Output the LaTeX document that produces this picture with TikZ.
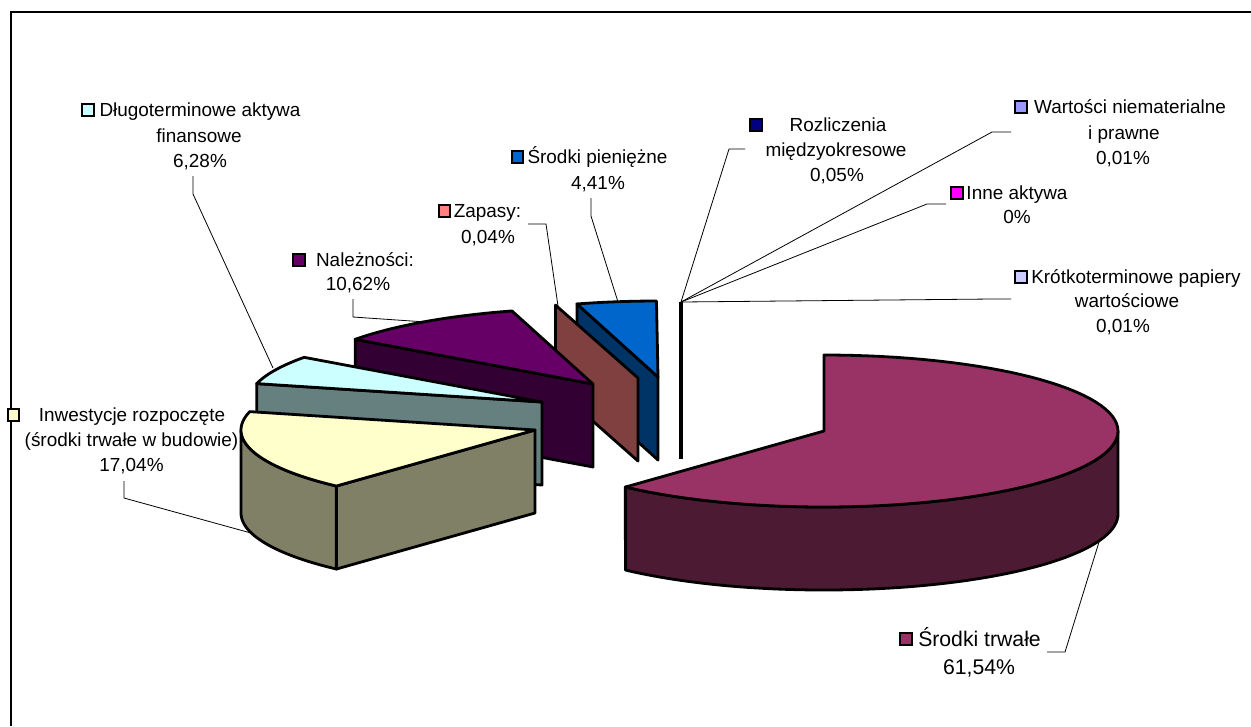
\documentclass[tikz,border=0pt]{standalone}
\usepackage{fontspec}
\setmainfont{Liberation Sans}
\definecolor{cYel}{HTML}{FFFFCC}
\definecolor{cYelS}{HTML}{808066}
\definecolor{cCyan}{HTML}{CCFFFF}
\definecolor{cCyanS}{HTML}{668080}
\definecolor{cPur}{HTML}{660066}
\definecolor{cPurS}{HTML}{330033}
\definecolor{cSal}{HTML}{FF8080}
\definecolor{cSalS}{HTML}{804040}
\definecolor{cBlu}{HTML}{0066CC}
\definecolor{cBluS}{HTML}{003366}
\definecolor{cMag}{HTML}{993366}
\definecolor{cMagS}{HTML}{4D1A33}
\definecolor{cNavy}{HTML}{000080}
\definecolor{cLav}{HTML}{9999FF}
\definecolor{cPink}{HTML}{FF00FF}
\definecolor{cLil}{HTML}{CCCCFF}
\newcommand{\pietop}[5]{\filldraw[slice, fill=#5] (#1,#2) -- plot[domain=#3:#4, samples=80, variable=\t] ({#1+294*cos(\t)},{#2-76*sin(\t)}) -- cycle;}
\newcommand{\pieside}[5]{\filldraw[slice, fill=#5] plot[domain=#3:#4, samples=80, variable=\t] ({#1+294*cos(\t)},{#2-76*sin(\t)}) -- plot[domain=#4:#3, samples=80, variable=\t] ({#1+294*cos(\t)},{#2+83-76*sin(\t)}) -- cycle;}
\newcommand{\pieface}[4]{\filldraw[slice, fill=#4] (#1,#2) -- ({#1+294*cos(#3)},{#2-76*sin(#3)}) -- ({#1+294*cos(#3)},{#2+83-76*sin(#3)}) -- (#1,{#2+83}) -- cycle;}
\begin{document}
\begin{tikzpicture}[x={(0.75pt,0)}, y={(0,-0.75pt)},
  slice/.style={draw=black, line width=2.1pt, line join=round},
  leader/.style={draw=black, line width=0.6pt},
  key/.style={draw=black, line width=1.4pt, minimum size=8.4pt, inner sep=0pt, rectangle},
  lbl/.style={anchor=base, inner sep=0pt, font=\fontsize{14.2}{18}\selectfont},
  lblbig/.style={anchor=base, inner sep=0pt, font=\fontsize{15.9}{20}\selectfont}]
\useasboundingbox (0,0) rectangle (1251,726);
\fill[white] (0,0) rectangle (1251,726);
% frame
\draw[line width=1.4pt] (1251,12) -- (11,12) -- (11,726);

% tiny slices (edge-on)
\draw[line width=2.6pt] (681,302) -- (681,459);
% Srodki pieniezne
\pieface{658}{377}{106}{cBluS}
\pietop{658}{377}{90.3}{106}{cBlu}
% Zapasy
\pieface{638}{378}{106.3}{cSalS}
% Naleznosci
\pieface{593}{384}{144}{cPurS}
\pietop{593}{384}{106}{144}{cPur}
% Dlugoterminowe
\pieface{542}{402}{166}{cCyanS}
\pietop{542}{402}{144}{166}{cCyan}
% Inwestycje
\pieface{535}{430}{227.5}{cYelS}
\pieside{535}{430}{180}{227.5}{cYelS}
\pietop{535}{430}{166}{227.5}{cYel}
% Srodki trwale
\pieside{824}{431}{-132.5}{0}{cMagS}
\pietop{824}{431}{-132.5}{90}{cMag}

% legend keys
\node[key, fill=cCyan] (kdl) at (88,110) {};
\node[key, fill=cPur] (kna) at (299,260) {};
\node[key, fill=cSal] (kza) at (444.5,211) {};
\node[key, fill=cBlu] (kpi) at (517.5,157) {};
\node[key, fill=cNavy] (kro) at (756,125) {};
\node[key, fill=cLav] (kwa) at (1021,107) {};
\node[key, fill=cPink] (kin) at (957,193) {};
\node[key, fill=cLil] (kkr) at (1021,277) {};
\node[key, fill=cYel] (kiw) at (13.5,415) {};
\node[key, fill=cMag] (ktr) at (906,639) {};

% labels
\node[lbl] (dl1) at (200,116) {Długoterminowe aktywa};
\node[lbl] (dl2) at (199,142) {finansowe};
\node[lbl] (dl3) at (200,167) {6,28\%};
\node[lbl] (na1) at (365,266) {Należności:};
\node[lbl] (na2) at (358,290) {10,62\%};
\node[lbl] (za1) at (487.5,217) {Zapasy:};
\node[lbl] (za2) at (488,243) {0,04\%};
\node[lbl] (pi1) at (597.5,163) {Środki pieniężne};
\node[lbl] (pi2) at (598,189) {4,41\%};
\node[lbl] (ro1) at (838,131) {Rozliczenia};
\node[lbl] (ro2) at (836,156) {międzyokresowe};
\node[lbl] (ro3) at (837,181) {0,05\%};
\node[lbl] (wa1) at (1130,113) {Wartości niematerialne};
\node[lbl] (wa2) at (1124,139) {i prawne};
\node[lbl] (wa3) at (1123,164) {0,01\%};
\node[lbl] (in1) at (1017,199) {Inne aktywa};
\node[lbl] (in2) at (1017,223) {0\%};
\node[lbl] (kr1) at (1136,283) {Krótkoterminowe papiery};
\node[lbl] (kr2) at (1127,307) {wartościowe};
\node[lbl] (kr3) at (1123,332) {0,01\%};
\node[lbl] (iw1) at (132,421) {Inwestycje rozpoczęte};
\node[lbl] (iw2) at (131.5,446) {(środki trwałe w budowie)};
\node[lbl] (iw3) at (131.5,471) {17,04\%};
\node[lblbig] (tr1) at (979.5,646) {Środki trwałe};
\node[lblbig] (tr2) at (979,674) {61,54\%};

% leader points
\coordinate (hub) at (681,302);
\coordinate (dlA) at (193,176); \coordinate (dlB) at (193,194); \coordinate (dlC) at (273,368);
\coordinate (naA) at (353,299); \coordinate (naB) at (353,317); \coordinate (naC) at (426,322);
\coordinate (zaA) at (528,224); \coordinate (zaB) at (546,224); \coordinate (zaC) at (558,306);
\coordinate (piA) at (591,198); \coordinate (piB) at (591,216); \coordinate (piC) at (618,302);
\coordinate (roA) at (745,149); \coordinate (roB) at (729,149);
\coordinate (waA) at (1011,132); \coordinate (waB) at (992,132);
\coordinate (inA) at (946,204); \coordinate (inB) at (927,204);
\coordinate (krA) at (1011,299); \coordinate (krB) at (992,299);
\coordinate (iwA) at (124,481); \coordinate (iwB) at (124,498); \coordinate (iwC) at (251,533);
\coordinate (trA) at (1047,652); \coordinate (trB) at (1065,652); \coordinate (trC) at (1099,542);

\draw[leader] (dlA) -- (dlB) -- (dlC);
\draw[leader] (naA) -- (naB) -- (naC);
\draw[leader] (zaA) -- (zaB) -- (zaC);
\draw[leader] (piA) -- (piB) -- (piC);
\draw[leader] (roA) -- (roB) -- (hub);
\draw[leader] (waA) -- (waB) -- (hub);
\draw[leader] (inA) -- (inB) -- (hub);
\draw[leader] (krA) -- (krB) -- (hub);
\draw[leader] (iwA) -- (iwB) -- (iwC);
\draw[leader] (trA) -- (trB) -- (trC);
\end{tikzpicture}
\end{document}
